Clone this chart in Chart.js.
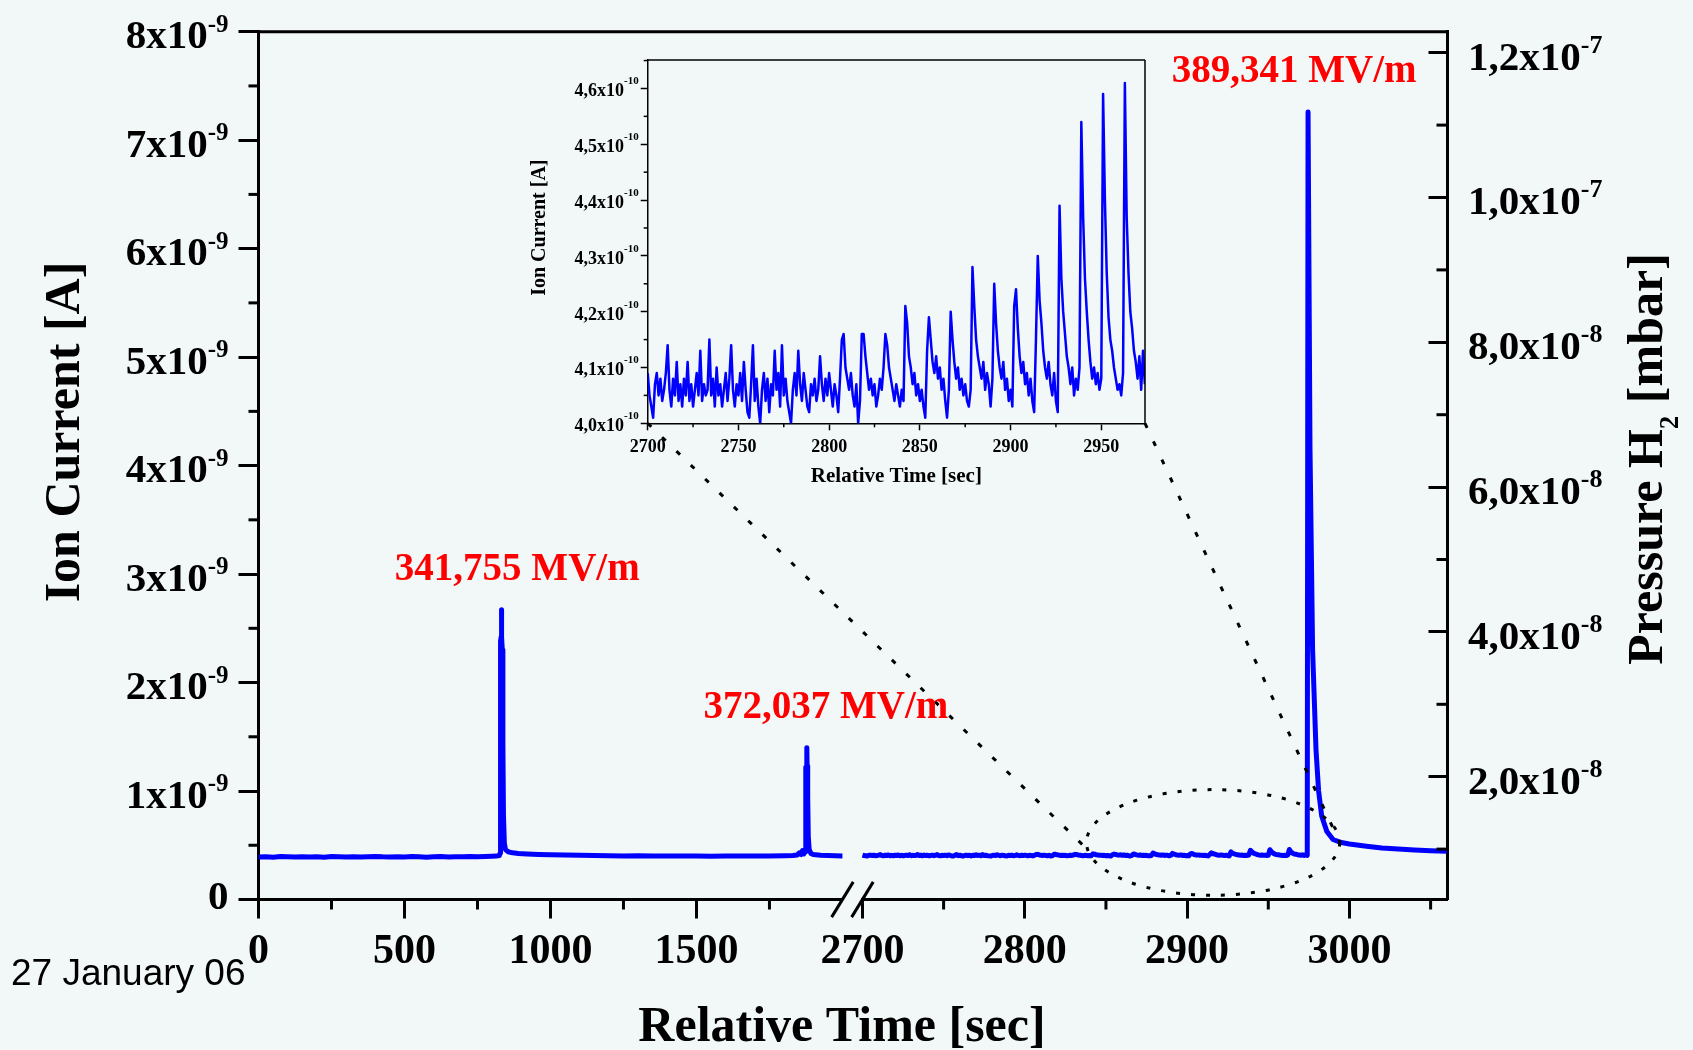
<!DOCTYPE html>
<html>
<head>
<meta charset="utf-8">
<title>Ion current and H2 pressure vs relative time</title>
<script src="https://cdn.jsdelivr.net/npm/chart.js@4.4.1/dist/chart.umd.min.js"></script>
<style>
  html, body { margin: 0; padding: 0; background: #f2f7f7; }
  #wrap { position: relative; width: 1693px; height: 1050px; overflow: hidden; }
  #mainChart { position: absolute; left: 0; top: 0; }
  #insetChart { position: absolute; }
</style>
</head>
<body>
<div id="wrap">
  <canvas id="mainChart" width="1693" height="1050"></canvas>
  <canvas id="insetChart" width="720" height="460"></canvas>
</div>
<script>
// ---------- data ----------

// left part of the broken time axis: time [s], ion current [1e-9 A]
const leftTime = [
  0, 25, 50, 75, 100, 125, 150, 175, 200, 225,
  250, 275, 300, 325, 350, 375, 400, 425, 450, 475,
  500, 525, 550, 575, 600, 625, 650, 675, 700, 725,
  750, 775, 800,
  815, 825, 828, 829, 831, 832, 833, 835, 837, 839, 842, 846, 855, 870, 890, 920, 960,
  1000, 1050, 1100, 1150, 1200, 1250, 1300, 1350, 1400, 1450, 1500, 1550, 1600, 1650, 1700, 1750, 1800,
  1830, 1845, 1852, 1858, 1863, 1868, 1872, 1874, 1875, 1877, 1878, 1879, 1881, 1883, 1886, 1892, 1900,
  1925, 1950, 1975, 2000
];
const leftCurrent = [
  0.392, 0.395, 0.390, 0.396, 0.393, 0.391, 0.395, 0.392, 0.394, 0.390,
  0.396, 0.393, 0.391, 0.395, 0.392, 0.394, 0.397, 0.393, 0.391, 0.395,
  0.392, 0.396, 0.393, 0.390, 0.394, 0.396, 0.392, 0.395, 0.393, 0.397,
  0.394, 0.396, 0.398,
  0.400, 0.405, 0.43, 2.38, 2.42, 2.67, 2.42, 2.30, 1.45, 0.78, 0.52, 0.46, 0.44, 0.43, 0.425, 0.42, 0.415,
  0.412, 0.410, 0.407, 0.405, 0.404, 0.402, 0.403, 0.401, 0.402, 0.400, 0.401, 0.399, 0.401, 0.400, 0.402, 0.401, 0.403,
  0.405, 0.41, 0.43, 0.415, 0.45, 0.42, 0.46, 0.44, 1.22, 1.22, 1.40, 1.23, 0.95, 0.58, 0.46, 0.425, 0.415,
  0.408, 0.405, 0.403, 0.402
];

// zoomed stretch 2700..2974 s, one sample per second, ion current [1e-10 A]
const insetStart = 2700;
const insetCurrent = [
  4.09, 4.05, 4.03, 4.01, 4.07, 4.09, 4.05, 4.08, 4.04, 4.06,
  4.09, 4.14, 4.06, 4.03, 4.08, 4.05, 4.11, 4.04, 4.07, 4.03,
  4.08, 4.05, 4.11, 4.04, 4.07, 4.03, 4.06, 4.09, 4.05, 4.13,
  4.04, 4.07, 4.05, 4.06, 4.15, 4.05, 4.08, 4.03, 4.10, 4.05,
  4.07, 4.03, 4.06, 4.09, 4.04, 4.08, 4.14, 4.06, 4.03, 4.07,
  4.05, 4.09, 4.04, 4.11, 4.06, 4.02, 4.01, 4.07, 4.14, 4.04,
  4.08, 4.03, 4.00, 4.06, 4.09, 4.04, 4.08, 4.02, 4.07, 4.05,
  4.13, 4.06, 4.09, 4.03, 4.14, 4.05, 4.08, 4.04, 4.02, 4.00,
  4.06, 4.09, 4.05, 4.13, 4.07, 4.04, 4.09, 4.06, 4.03, 4.02,
  4.07, 4.05, 4.08, 4.04, 4.06, 4.12, 4.07, 4.04, 4.08, 4.05,
  4.09, 4.06, 4.03, 4.07, 4.05, 4.02, 4.08, 4.15, 4.16, 4.10,
  4.08, 4.06, 4.09, 4.05, 4.03, 4.07, 4.00, 4.04, 4.16, 4.16,
  4.12, 4.09, 4.06, 4.08, 4.05, 4.07, 4.03, 4.05, 4.08, 4.06,
  4.10, 4.16, 4.14, 4.10, 4.08, 4.06, 4.04, 4.07, 4.05, 4.03,
  4.06, 4.04, 4.21, 4.18, 4.12, 4.10, 4.07, 4.09, 4.05, 4.07,
  4.04, 4.06, 4.03, 4.01, 4.13, 4.19, 4.15, 4.11, 4.09, 4.12,
  4.08, 4.10, 4.06, 4.08, 4.04, 4.01, 4.06, 4.20, 4.15, 4.11,
  4.08, 4.10, 4.06, 4.08, 4.05, 4.07, 4.04, 4.03, 4.06, 4.28,
  4.21, 4.15, 4.12, 4.10, 4.08, 4.11, 4.06, 4.09, 4.07, 4.03,
  4.08, 4.25, 4.18, 4.13, 4.10, 4.08, 4.11, 4.06, 4.08, 4.04,
  4.06, 4.03, 4.21, 4.24, 4.17, 4.12, 4.09, 4.11, 4.07, 4.09,
  4.05, 4.08, 4.04, 4.02, 4.15, 4.30, 4.22, 4.18, 4.13, 4.10,
  4.08, 4.11, 4.07, 4.05, 4.09, 4.04, 4.02, 4.39, 4.26, 4.20,
  4.16, 4.12, 4.10, 4.07, 4.10, 4.05, 4.08, 4.06, 4.10, 4.54,
  4.37, 4.26, 4.20, 4.15, 4.11, 4.08, 4.10, 4.07, 4.09, 4.06,
  4.08, 4.59, 4.40, 4.27, 4.19, 4.15, 4.13, 4.10, 4.08, 4.06,
  4.07, 4.05, 4.09, 4.61, 4.37, 4.27, 4.20, 4.17, 4.13, 4.11,
  4.08, 4.12, 4.06, 4.13, 4.07
];

// big breakdown near 2975 s and the slow decay after it: time [s], ion current [1e-9 A]
const tailTime = [2974.5, 2975.7, 2977.3, 2979.4, 2981, 2982.9, 2986, 2989.9, 2995, 3000, 3010.5, 3020, 3030, 3040, 3050, 3060];
const tailCurrent = [7.26, 4.15, 2.30, 1.38, 1.0, 0.77, 0.63, 0.553, 0.525, 0.512, 0.491, 0.475, 0.465, 0.457, 0.45, 0.445];

// ticks
const currentTicks = [0, 1, 2, 3, 4, 5, 6, 7, 8];
const currentTickLabels = [['0', ''], ['1x10', '-9'], ['2x10', '-9'], ['3x10', '-9'], ['4x10', '-9'],
  ['5x10', '-9'], ['6x10', '-9'], ['7x10', '-9'], ['8x10', '-9']];
const currentMinor = [0.5, 1.5, 2.5, 3.5, 4.5, 5.5, 6.5, 7.5];
const pressureTicks = [2, 4, 6, 8, 10, 12];          // 1e-8 mbar
const pressureTickLabels = [['2,0x10', '-8'], ['4,0x10', '-8'], ['6,0x10', '-8'], ['8,0x10', '-8'],
  ['1,0x10', '-7'], ['1,2x10', '-7']];
const pressureMinor = [1, 3, 5, 7, 9, 11];
const timeTicks = [0, 500, 1000, 1500, 2700, 2800, 2900, 3000];
const timeMinor = [250, 750, 1250, 1750, 2750, 2850, 2950, 3050];
const insetTimeTicks = [2700, 2750, 2800, 2850, 2900, 2950];
const insetTimeMinor = [2725, 2775, 2825, 2875, 2925];
const insetCurrentTicks = [4.0, 4.1, 4.2, 4.3, 4.4, 4.5, 4.6];
const insetCurrentLabels = ['4,0', '4,1', '4,2', '4,3', '4,4', '4,5', '4,6'];
const insetCurrentMinor = [4.05, 4.15, 4.25, 4.35, 4.45, 4.55, 4.65];

// red field labels, anchored at (time [s], current [1e-9 A]) of their left baseline
const fieldLabels = [
  { text: '341,755 MV/m', t: 467, i: 2.945 },
  { text: '372,037 MV/m', t: 1524, i: 1.67 },
  { text: '389,341 MV/m', t: 2890.5, i: 7.54 }
];
// dotted ring around the zoomed stretch: centre and half axes
const zoomRing = { t: 2916, i: 0.526, dt: 78, di: 0.487 };

// ---------- broken time axis ----------
const BREAK_FROM = 2000, BREAK_TO = 2700, TIME_END = 3060.4;
const SEG2_U = 2068.5;      // where 2700 s sits on the compressed axis
const SEG2_STRETCH = 5.56;  // right part is drawn wider per second
function toU(t) {
  return t <= BREAK_FROM ? t : SEG2_U + (t - BREAK_TO) * SEG2_STRETCH;
}

const SERIF = '"Liberation Serif", "Times New Roman", serif';
const INSET_LEFT = 490, INSET_TOP = 40;
document.getElementById('insetChart').style.left = INSET_LEFT + 'px';
document.getElementById('insetChart').style.top = INSET_TOP + 'px';

function supText(ctx, base, sup, x, y, align, baseSize, supSize, baseDy, supDy) {
  ctx.font = 'bold ' + baseSize + 'px ' + SERIF;
  const bw = ctx.measureText(base).width;
  ctx.font = 'bold ' + supSize + 'px ' + SERIF;
  const sw = sup ? ctx.measureText(sup).width : 0;
  let x0 = x;
  if (align === 'right') x0 = x - bw - sw;
  if (align === 'center') x0 = x - (bw + sw) / 2;
  ctx.textAlign = 'left';
  ctx.textBaseline = 'alphabetic';
  ctx.font = 'bold ' + baseSize + 'px ' + SERIF;
  ctx.fillText(base, x0, y + baseDy);
  if (sup) {
    ctx.font = 'bold ' + supSize + 'px ' + SERIF;
    ctx.fillText(sup, x0 + bw, y + supDy);
  }
}

function line(ctx, x1, y1, x2, y2) {
  ctx.beginPath();
  ctx.moveTo(x1, y1);
  ctx.lineTo(x2, y2);
  ctx.stroke();
}

// ---------- inset ----------
const insetDecor = {
  id: 'insetDecor',
  afterDraw(chart) {
    const { ctx, chartArea: ca, scales: { x, y } } = chart;
    ctx.save();
    ctx.strokeStyle = '#000';
    ctx.fillStyle = '#000';
    ctx.lineWidth = 1.5;
    line(ctx, ca.left, ca.top, ca.right, ca.top);
    line(ctx, ca.right, ca.top, ca.right, ca.bottom);
    insetTimeMinor.forEach(t => {
      const px = x.getPixelForValue(t);
      line(ctx, px, ca.bottom, px, ca.bottom + 4);
    });
    insetCurrentMinor.forEach(v => {
      const py = y.getPixelForValue(v);
      line(ctx, ca.left, py, ca.left - 4, py);
    });
    insetCurrentTicks.forEach((v, k) => {
      supText(ctx, insetCurrentLabels[k] + 'x10', '-10', ca.left - 9, y.getPixelForValue(v), 'right', 18, 11, 8, -4);
    });
    ctx.font = 'bold 18px ' + SERIF;
    ctx.textAlign = 'center';
    ctx.textBaseline = 'alphabetic';
    insetTimeTicks.forEach(t => ctx.fillText(String(t), x.getPixelForValue(t), ca.bottom + 29));
    ctx.font = 'bold 21px ' + SERIF;
    ctx.fillText('Relative Time [sec]', (ca.left + ca.right) / 2, ca.bottom + 59);
    ctx.translate(ca.left - 103, (ca.top + ca.bottom) / 2 - 14);
    ctx.rotate(-Math.PI / 2);
    ctx.font = 'bold 20px ' + SERIF;
    ctx.fillText('Ion Current [A]', 0, 0);
    ctx.restore();
  }
};

const insetChart = new Chart(document.getElementById('insetChart'), {
  type: 'line',
  data: {
    datasets: [{
      data: insetCurrent.map((v, k) => ({ x: insetStart + k, y: v })),
      borderColor: '#0000ff',
      borderWidth: 2.5,
      pointRadius: 0,
      tension: 0,
      borderJoinStyle: 'round'
    }]
  },
  options: {
    responsive: false,
    animation: false,
    devicePixelRatio: 1,
    layout: { padding: { top: 20, right: 65 } },
    plugins: { legend: { display: false }, tooltip: { enabled: false } },
    scales: {
      x: {
        type: 'linear', min: 2700, max: 2974.1,
        afterBuildTicks: s => { s.ticks = insetTimeTicks.map(v => ({ value: v })); },
        afterFit: s => { s.height = 76.7; },
        ticks: { display: false },
        grid: { drawOnChartArea: false, tickLength: 7, tickWidth: 1.5, tickColor: '#000' },
        border: { color: '#000', width: 1.5 }
      },
      y: {
        type: 'linear', min: 4.0, max: 4.651,
        afterBuildTicks: s => { s.ticks = insetCurrentTicks.map(v => ({ value: v })); },
        afterFit: s => { s.width = 157.7; },
        ticks: { display: false },
        grid: { drawOnChartArea: false, tickLength: 7, tickWidth: 1.5, tickColor: '#000' },
        border: { color: '#000', width: 1.5 }
      }
    }
  },
  plugins: [insetDecor]
});

// ---------- main chart ----------
const mainDecor = {
  id: 'mainDecor',
  afterDatasetsDraw(chart) {
    const { ctx, scales: { x, y } } = chart;
    const ica = insetChart.chartArea;
    const cx = x.getPixelForValue(toU(zoomRing.t));
    const rx = x.getPixelForValue(toU(zoomRing.t + zoomRing.dt)) - cx;
    const cy = y.getPixelForValue(zoomRing.i);
    const ry = cy - y.getPixelForValue(zoomRing.i + zoomRing.di);
    ctx.save();
    ctx.strokeStyle = '#000';
    ctx.lineWidth = 3;
    ctx.setLineDash([4, 11]);
    ctx.beginPath();
    ctx.ellipse(cx, cy, rx, ry, 0, 0, Math.PI * 2);
    ctx.stroke();
    ctx.setLineDash([5, 15]);
    line(ctx, INSET_LEFT + ica.left, INSET_TOP + ica.bottom, cx - rx, cy + 6);
    line(ctx, INSET_LEFT + ica.right, INSET_TOP + ica.bottom, cx + rx, cy);
    ctx.restore();
  },
  afterDraw(chart) {
    const { ctx, chartArea: ca, scales: { x, y, y2 } } = chart;
    ctx.save();
    ctx.strokeStyle = '#000';
    ctx.fillStyle = '#000';
    ctx.lineWidth = 3;
    line(ctx, ca.left - 1.5, ca.top, ca.right + 1.5, ca.top);

    // minor ticks
    currentMinor.forEach(v => { const p = y.getPixelForValue(v); line(ctx, ca.left, p, ca.left - 10, p); });
    pressureMinor.forEach(v => { const p = y2.getPixelForValue(v); line(ctx, ca.right, p, ca.right - 11, p); });
    timeMinor.forEach(t => { const p = x.getPixelForValue(toU(t)); line(ctx, p, ca.bottom, p, ca.bottom + 10); });

    // axis break
    const b1 = x.getPixelForValue(toU(BREAK_FROM));
    const b2 = x.getPixelForValue(toU(BREAK_TO));
    ctx.clearRect(b1, ca.bottom - 3, b2 - b1 - 1.5, 6);
    [b1, b2].forEach(bx => line(ctx, bx - 10.8, ca.bottom + 17.6, bx + 10.8, ca.bottom - 17.6));

    // tick labels
    currentTicks.forEach((v, k) => {
      const [base, sup] = currentTickLabels[k];
      supText(ctx, base, sup, ca.left - 30, y.getPixelForValue(v), 'right', 41, 25, sup ? 16.5 : 9.5, 0);
    });
    pressureTicks.forEach((v, k) => {
      const [base, sup] = pressureTickLabels[k];
      supText(ctx, base, sup, ca.right + 20.5, y2.getPixelForValue(v), 'left', 41, 26, 17, 0);
    });
    ctx.font = 'bold 42px ' + SERIF;
    ctx.textAlign = 'center';
    ctx.textBaseline = 'alphabetic';
    timeTicks.forEach(t => ctx.fillText(String(t), x.getPixelForValue(toU(t)), ca.bottom + 63.5));

    // axis titles
    ctx.font = 'bold 50px ' + SERIF;
    ctx.fillText('Relative Time [sec]', 842, ca.bottom + 141.5);
    ctx.save();
    ctx.translate(79, 432);
    ctx.rotate(-Math.PI / 2);
    ctx.fillText('Ion Current [A]', 0, 0);
    ctx.restore();

    ctx.save();
    ctx.translate(1662, 459);
    ctx.rotate(-Math.PI / 2);
    const big = 'bold 50px ' + SERIF, small = 'bold 27px ' + SERIF;
    ctx.font = big;
    const w1 = ctx.measureText('Pressure H').width;
    const w3 = ctx.measureText(' [mbar]').width;
    ctx.font = small;
    const w2 = ctx.measureText('2').width;
    let sx = -(w1 + w2 + w3) / 2;
    ctx.textAlign = 'left';
    ctx.font = big;
    ctx.fillText('Pressure H', sx, 0);
    ctx.font = small;
    ctx.fillText('2', sx + w1, 16);
    ctx.font = big;
    ctx.fillText(' [mbar]', sx + w1 + w2, 0);
    ctx.restore();

    // field labels
    ctx.fillStyle = '#ff0000';
    ctx.font = 'bold 39px ' + SERIF;
    ctx.textAlign = 'left';
    fieldLabels.forEach(l => ctx.fillText(l.text, x.getPixelForValue(toU(l.t)), y.getPixelForValue(l.i)));

    // date stamp
    ctx.fillStyle = '#000';
    ctx.font = '37px "Liberation Sans", Arial, sans-serif';
    ctx.fillText('27 January 06', 11, 985);
    ctx.restore();
  }
};

const lineStyle = {
  borderColor: '#0000ff',
  borderWidth: 5,
  pointRadius: 0,
  tension: 0,
  borderJoinStyle: 'round'
};

const rightPoints = insetCurrent.map((v, k) => ({ x: toU(insetStart + k), y: v / 10 }))
  .concat(tailTime.map((t, k) => ({ x: toU(t), y: tailCurrent[k] })));

const majorGrid = len => ({ drawOnChartArea: false, tickLength: len, tickWidth: 3, tickColor: '#000' });

const mainChart = new Chart(document.getElementById('mainChart'), {
  type: 'line',
  data: {
    datasets: [
      Object.assign({ data: leftTime.map((t, k) => ({ x: toU(t), y: leftCurrent[k] })) }, lineStyle),
      Object.assign({ data: rightPoints }, lineStyle)
    ]
  },
  options: {
    responsive: false,
    animation: false,
    devicePixelRatio: 1,
    layout: { padding: { top: 31.7 } },
    plugins: { legend: { display: false }, tooltip: { enabled: false } },
    scales: {
      x: {
        type: 'linear', min: 0, max: toU(TIME_END),
        afterBuildTicks: s => { s.ticks = timeTicks.map(t => ({ value: toU(t) })); },
        afterFit: s => { s.height = 150.5; },
        ticks: { display: false },
        grid: majorGrid(19),
        border: { color: '#000', width: 3 }
      },
      y: {
        type: 'linear', position: 'left', min: 0, max: 8,
        afterBuildTicks: s => { s.ticks = currentTicks.map(v => ({ value: v })); },
        afterFit: s => { s.width = 258.5; },
        ticks: { display: false },
        grid: majorGrid(20),
        border: { color: '#000', width: 3 }
      },
      y2: {
        type: 'linear', position: 'right', min: 0.304, max: 12.29,
        afterBuildTicks: s => { s.ticks = pressureTicks.map(v => ({ value: v })); },
        afterFit: s => { s.width = 245.5; },
        ticks: { display: false },
        grid: majorGrid(-19),
        border: { color: '#000', width: 3 }
      }
    }
  },
  plugins: [mainDecor]
});
</script>
</body>
</html>
